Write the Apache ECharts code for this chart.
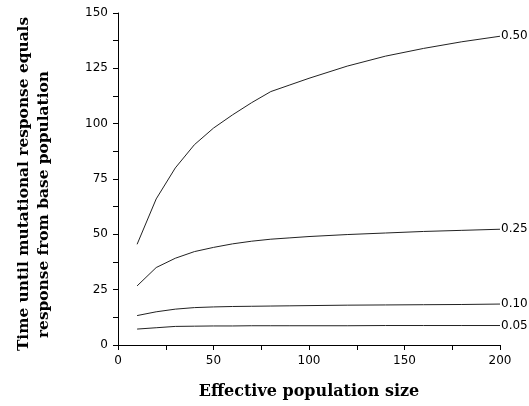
<!DOCTYPE html>
<html>
<head>
<meta charset="utf-8">
<script src="https://cdn.jsdelivr.net/npm/echarts@6/dist/echarts.min.js"></script>
<style>
    html, body { margin: 0; padding: 0; background: #fff; }
    #chart { width: 529px; height: 406px; }
</style>
</head>
<body>
<div id="chart"></div>
<script>
// effective population size
var sizes = [10, 20, 30, 40, 50, 60, 70, 80, 90, 100, 120, 140, 160, 180, 200];
// one curve per selection value
var curveNames = ["0.50", "0.25", "0.10", "0.05"];
var t050 = [45.5, 66, 80, 90.5, 98, 104, 109.5, 114.5, 117.5, 120.5, 126, 130.5, 134, 137, 139.5];
var t025 = [26.7, 35, 39.2, 42.2, 44.1, 45.7, 46.9, 47.8, 48.4, 49, 49.9, 50.6, 51.3, 51.8, 52.3];
var t010 = [13.3, 15, 16.2, 16.9, 17.2, 17.4, 17.5, 17.6, 17.7, 17.8, 18, 18.1, 18.2, 18.3, 18.5];
var t005 = [7.2, 7.8, 8.4, 8.5, 8.6, 8.6, 8.7, 8.7, 8.7, 8.7, 8.7, 8.8, 8.8, 8.8, 8.8];
var curves = [t050, t025, t010, t005];

var tickFont = "DejaVu Sans";
var titleFont = "DejaVu Serif";

function toPairs(ys) {
    var out = [];
    for (var i = 0; i < sizes.length; i++) {
        out.push([sizes[i], ys[i]]);
    }
    return out;
}

var series = [];
for (var i = 0; i < curves.length; i++) {
    series.push({
        name: curveNames[i],
        type: "line",
        data: toPairs(curves[i]),
        symbol: "none",
        silent: true,
        lineStyle: { color: "#222", width: 1 },
        endLabel: {
            show: true,
            formatter: "{a}",
            distance: 1,
            color: "#000",
            fontFamily: tickFont,
            fontSize: 12
        }
    });
}

var lineBlack = { color: "#000", width: 1 };
var titleStyle = { fontFamily: titleFont, fontWeight: "bold", fontSize: 15.4, lineHeight: 20, color: "#000" };

var myChart = echarts.init(document.getElementById("chart"));
var option = {
    animation: false,
    backgroundColor: "#fff",
    grid: { left: 118, right: 29, top: 13, bottom: 61, outerBoundsMode: "none" },
    xAxis: {
        type: "value",
        min: 0,
        max: 200,
        interval: 50,
        name: "Effective population size",
        nameLocation: "middle",
        nameGap: 39,
        nameTextStyle: { color: "#000", fontFamily: titleFont, fontWeight: "bold", fontSize: 16 },
        axisLine: { show: true, lineStyle: lineBlack },
        axisTick: { show: true, length: 5, lineStyle: lineBlack },
        minorTick: { show: true, splitNumber: 2, length: 5, lineStyle: lineBlack },
        splitLine: { show: false },
        axisLabel: { color: "#000", fontFamily: tickFont, fontSize: 12, margin: 10 }
    },
    yAxis: {
        type: "value",
        min: 0,
        max: 150,
        interval: 25,
        name: "{a|Time until mutational response equals}\n{b|response from base population}",
        nameLocation: "middle",
        nameGap: 64,
        nameRotate: 90,
        nameTextStyle: {
            color: "#000",
            fontFamily: titleFont,
            fontWeight: "bold",
            fontSize: 15.4,
            lineHeight: 20,
            align: "center",
            padding: [0, 10, 0, 0],
            rich: {
                a: titleStyle,
                b: echarts.util.extend({ padding: [0, 41, 0, 0] }, titleStyle)
            }
        },
        axisLine: { show: true, lineStyle: lineBlack },
        axisTick: { show: true, length: 5, lineStyle: lineBlack },
        minorTick: { show: true, splitNumber: 2, length: 5, lineStyle: lineBlack },
        splitLine: { show: false },
        axisLabel: { color: "#000", fontFamily: tickFont, fontSize: 12, margin: 10 }
    },
    series: series
};
myChart.setOption(option);
</script>
</body>
</html>
